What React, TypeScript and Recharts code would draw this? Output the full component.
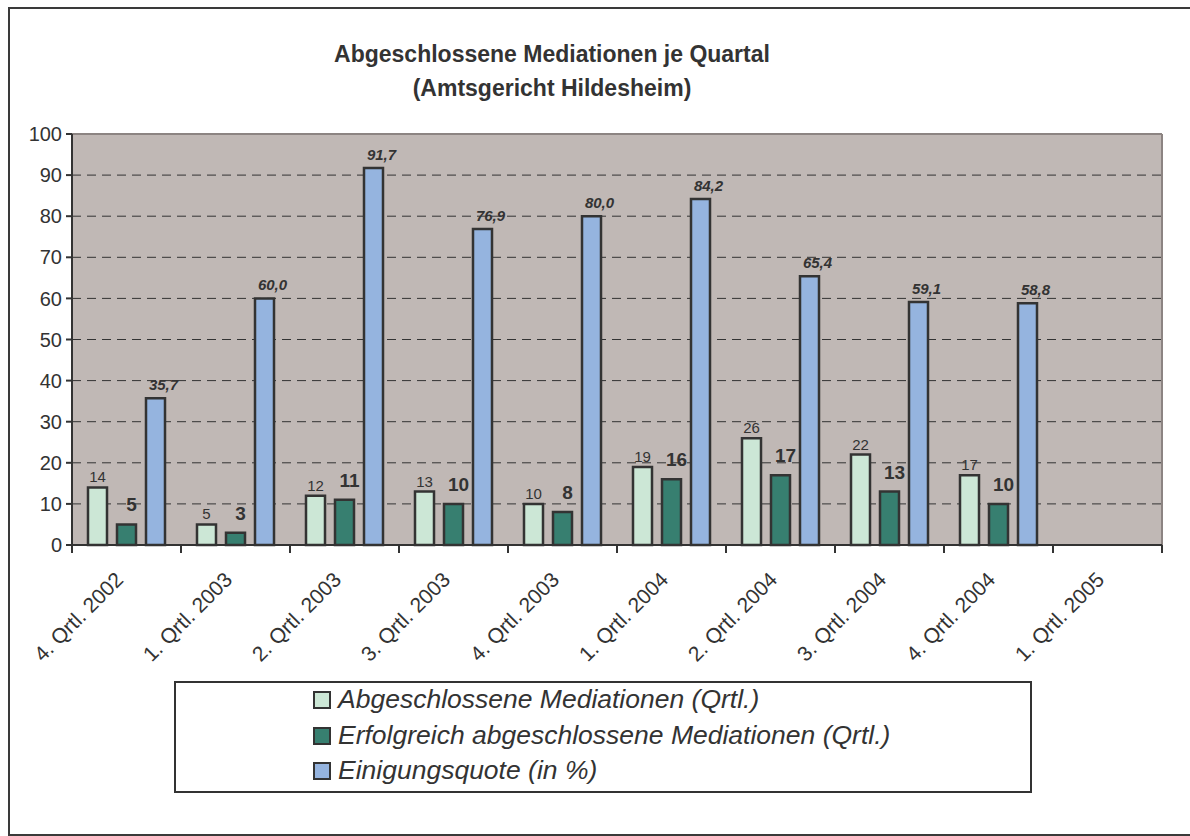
import React from "react"
import { BarChart, Bar, XAxis, YAxis, CartesianGrid, ReferenceLine, LabelList } from "recharts"

// quarters on the x axis
const categories = [
    "4. Qrtl. 2002",
    "1. Qrtl. 2003",
    "2. Qrtl. 2003",
    "3. Qrtl. 2003",
    "4. Qrtl. 2003",
    "1. Qrtl. 2004",
    "2. Qrtl. 2004",
    "3. Qrtl. 2004",
    "4. Qrtl. 2004",
    "1. Qrtl. 2005",
]
const abgeschlossen = [14, 5, 12, 13, 10, 19, 26, 22, 17, null]
const erfolgreich = [5, 3, 11, 10, 8, 16, 17, 13, 10, null]
const quote = [35.7, 60.0, 91.7, 76.9, 80.0, 84.2, 65.4, 59.1, 58.8, null]
const yTicks = [0, 10, 20, 30, 40, 50, 60, 70, 80, 90, 100]

const seriesNames = [
    "Abgeschlossene Mediationen (Qrtl.)",
    "Erfolgreich abgeschlossene Mediationen (Qrtl.)",
    "Einigungsquote (in %)",
]
const seriesColors = ["#CCE7D6", "#377F70", "#95B4DF"]

const data = categories.map((q, i) => ({
    q,
    a: abgeschlossen[i],
    e: erfolgreich[i],
    p: quote[i],
}))

const W = 1190
const H = 836
const MARGIN = { top: 134, right: 28, left: 0, bottom: 191 }
const BAND = (W - 72 - MARGIN.right) / categories.length
const INK = "#333333"
const FONT = "'Liberation Sans', Arial, sans-serif"

const XTick = (props: any) => {
    const { x, y, payload, index } = props
    return (
        <g>
            <line x1={x - BAND / 2} x2={x - BAND / 2} y1={y} y2={y + 8} stroke={INK} strokeWidth={2} />
            {index === categories.length - 1 && (
                <line x1={x + BAND / 2} x2={x + BAND / 2} y1={y} y2={y + 8} stroke={INK} strokeWidth={2} />
            )}
            <text
                transform={`translate(${x - 2},${y + 36}) rotate(-45)`}
                textAnchor="end"
                fontSize={21}
                fontFamily={FONT}
                fill={INK}
            >
                {payload.value}
            </text>
        </g>
    )
}

// label above a bar, with optional shift and styling
const makeLabel =
    (opts: { size: number; weight?: string; italic?: boolean; gap: number; dx?: number; fmt?: (v: number) => string }) =>
    (props: any) => {
        const vb = props.viewBox || props
        const value = props.value
        if (value == null || value === "") return null
        const x = (vb.x ?? props.x) + (vb.width ?? props.width) / 2 + (opts.dx || 0)
        const y = vb.y ?? props.y
        return (
            <text
                x={x}
                y={y - opts.gap}
                textAnchor="middle"
                fontSize={opts.size}
                fontWeight={opts.weight || "normal"}
                fontStyle={opts.italic ? "italic" : "normal"}
                fontFamily={FONT}
                fill={INK}
            >
                {opts.fmt ? opts.fmt(Number(value)) : value}
            </text>
        )
    }

export default function App() {
    return (
        <div style={{ position: "absolute", left: 0, top: 0, width: W, height: H, overflow: "hidden", background: "#fff" }}>
            {/* outer frame */}
            <div
                style={{
                    position: "absolute",
                    left: 8,
                    top: 7,
                    width: 1200,
                    height: 825,
                    border: "2px solid #3a3a3a",
                }}
            />
            {/* title */}
            <div
                style={{
                    position: "absolute",
                    left: 0,
                    top: 37,
                    width: 1104,
                    textAlign: "center",
                    fontFamily: FONT,
                    fontWeight: "bold",
                    fontSize: 23,
                    lineHeight: "34px",
                    color: INK,
                }}
            >
                Abgeschlossene Mediationen je Quartal
                <br />
                (Amtsgericht Hildesheim)
            </div>

            <div style={{ position: "absolute", left: 0, top: 0 }}>
                <BarChart width={W} height={H} data={data} margin={MARGIN} barGap={10}>
                    <CartesianGrid
                        vertical={false}
                        fill="#C0B8B5"
                        fillOpacity={1}
                        stroke={INK}
                        strokeDasharray="9 6"
                    />
                    <XAxis
                        dataKey="q"
                        height={100}
                        interval={0}
                        tickSize={0}
                        tickMargin={0}
                        tickLine={false}
                        axisLine={{ stroke: INK, strokeWidth: 2 }}
                        tick={<XTick />}
                    />
                    <YAxis
                        width={72}
                        domain={[0, 100]}
                        ticks={yTicks}
                        interval={0}
                        tickSize={6}
                        tickMargin={4}
                        tickLine={{ stroke: INK, strokeWidth: 2 }}
                        axisLine={{ stroke: INK, strokeWidth: 2 }}
                        tick={{ fontSize: 20, fill: INK, fontFamily: FONT }}
                    />
                    <ReferenceLine y={100} stroke="#8C8482" strokeWidth={2} />
                    <ReferenceLine x={categories[categories.length - 1]} position="end" stroke="#8C8482" strokeWidth={2} />
                    <Bar dataKey="a" fill={seriesColors[0]} stroke={INK} strokeWidth={2.5} barSize={19} isAnimationActive={false}>
                        <LabelList dataKey="a" content={makeLabel({ size: 15, gap: 5 })} />
                    </Bar>
                    <Bar dataKey="e" fill={seriesColors[1]} stroke={INK} strokeWidth={2.5} barSize={19} isAnimationActive={false}>
                        <LabelList dataKey="e" content={makeLabel({ size: 19, weight: "bold", gap: 13, dx: 5 })} />
                    </Bar>
                    <Bar dataKey="p" fill={seriesColors[2]} stroke={INK} strokeWidth={2.5} barSize={19} isAnimationActive={false}>
                        <LabelList
                            dataKey="p"
                            content={makeLabel({
                                size: 15,
                                weight: "bold",
                                italic: true,
                                gap: 8,
                                dx: 8,
                                fmt: (v) => v.toFixed(1).replace(".", ","),
                            })}
                        />
                    </Bar>
                </BarChart>
            </div>

            {/* legend */}
            <div
                style={{
                    position: "absolute",
                    left: 174,
                    top: 681,
                    width: 854,
                    height: 108,
                    border: "2px solid #333",
                    background: "#fff",
                    fontFamily: FONT,
                }}
            >
                {seriesNames.map((name, i) => (
                    <div
                        key={name}
                        style={{
                            position: "absolute",
                            left: 137,
                            top: 4 + i * 35.5,
                            height: 25,
                            lineHeight: "25px",
                            fontSize: 26.5,
                            fontStyle: "italic",
                            color: INK,
                            whiteSpace: "nowrap",
                            paddingLeft: 25,
                        }}
                    >
                        <span
                            style={{
                                position: "absolute",
                                left: 0,
                                top: 4,
                                width: 14,
                                height: 14,
                                background: seriesColors[i],
                                border: "2px solid #333",
                            }}
                        />
                        {name}
                    </div>
                ))}
            </div>
        </div>
    )
}
